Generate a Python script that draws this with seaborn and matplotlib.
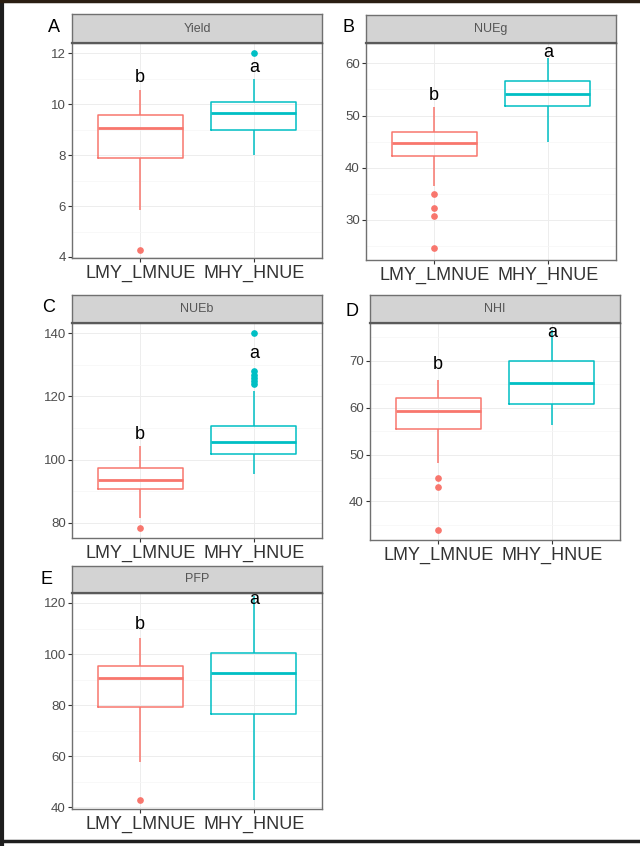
import numpy as np
import pandas as pd
import matplotlib
matplotlib.use("Agg")
import matplotlib.pyplot as plt
from matplotlib.lines import Line2D
from matplotlib.ticker import AutoMinorLocator
import seaborn as sns

# ---------------- data ----------------
groups = ["LMY_LMNUE", "MHY_HNUE"]
panel_titles = ["Yield", "NUEg", "NUEb", "NHI", "PFP"]
panel_letters = ["A", "B", "C", "D", "E"]

# five-number summaries: [lower whisker, Q1, median, Q3, upper whisker]
yield_lmy = [5.84, 7.88, 9.06, 9.57, 10.55]
yield_mhy = [8.0, 8.98, 9.65, 10.08, 11.0]
nueg_lmy = [36.4, 42.3, 44.7, 46.8, 51.7]
nueg_mhy = [45.0, 51.8, 54.1, 56.6, 61.0]
nueb_lmy = [81.5, 90.7, 93.7, 97.4, 104.2]
nueb_mhy = [95.3, 101.9, 105.5, 110.5, 121.6]
nhi_lmy = [48.2, 55.4, 59.3, 62.1, 65.8]
nhi_mhy = [56.2, 60.7, 65.2, 70.0, 76.6]
pfp_lmy = [57.8, 79.2, 90.5, 95.4, 106.3]
pfp_mhy = [42.8, 76.4, 92.5, 100.6, 122.7]

# outliers
yield_lmy_out = [4.27]
yield_mhy_out = [12.0]
nueg_lmy_out = [35.0, 32.2, 30.8, 24.6]
nueg_mhy_out = []
nueb_lmy_out = [78.4]
nueb_mhy_out = [123.8, 124.8, 125.8, 126.8, 128.0, 140.0]
nhi_lmy_out = [45.0, 43.0, 34.0]
nhi_mhy_out = []
pfp_lmy_out = [42.8]
pfp_mhy_out = []

# significance letters and their heights
sig_letters = [["b", "a"], ["b", "a"], ["b", "a"], ["b", "a"], ["b", "a"]]
letter_y = [[11.06, 11.45], [53.9, 62.0], [107.9, 133.5], [69.1, 75.9], [111.5, 121.3]]

# axis ranges and ticks
ylims = [(3.96, 12.4), (22.3, 63.9), (75.2, 143.2), (31.8, 78.0), (39.4, 123.9)]
yticks = [[4, 6, 8, 10, 12], [30, 40, 50, 60], [80, 100, 120, 140],
          [40, 50, 60, 70], [40, 60, 80, 100, 120]]

summaries = [(yield_lmy, yield_mhy), (nueg_lmy, nueg_mhy), (nueb_lmy, nueb_mhy),
             (nhi_lmy, nhi_mhy), (pfp_lmy, pfp_mhy)]
outliers = [(yield_lmy_out, yield_mhy_out), (nueg_lmy_out, nueg_mhy_out),
            (nueb_lmy_out, nueb_mhy_out), (nhi_lmy_out, nhi_mhy_out),
            (pfp_lmy_out, pfp_mhy_out)]


def sample_from_summary(s, outs):
    """Sample whose box-plot statistics equal the read summary values."""
    lo, q1, med, q3, hi = s
    lows = [o for o in outs if o < q1]
    highs = [o for o in outs if o >= q1]
    return lows + [lo] + [q1] * 20 + [med] * 21 + [q3] * 20 + [hi] + highs


# ---------------- style ----------------
sns.set_theme(style="white")
plt.rcParams["font.family"] = ["Liberation Sans", "DejaVu Sans"]
palette = ["#F8766D", "#00BFC4"]

W, H = 640, 846
fig = plt.figure(figsize=(W / 100, H / 100), dpi=100)
fig.patch.set_facecolor("white")

# panel boxes in pixels: (left, right, top, bottom, strip_top)
boxes = [(72, 322, 43, 258, 14), (366, 616, 43, 260, 15),
         (72, 322, 323, 538, 295), (370, 620, 323, 540, 295),
         (72, 322, 593, 809, 566)]
letter_pos = [(54, 27), (348, 28), (49, 307), (352, 311), (47, 579)]


def frac(l, r, t, b):
    return [l / W, 1 - b / H, (r - l) / W, (b - t) / H]


for i in range(5):
    l, r, t, b, st = boxes[i]
    ax = fig.add_axes(frac(l, r, t, b))
    rows = []
    for g, s, o in zip(groups, summaries[i], outliers[i]):
        for v in sample_from_summary(s, o):
            rows.append((g, v))
    df = pd.DataFrame(rows, columns=["group", "value"])

    sns.boxplot(data=df, x="group", y="value", hue="group", order=groups,
                hue_order=groups, palette=palette, fill=False, width=0.75,
                showcaps=False, linewidth=1.1, whis=1.5, legend=False,
                medianprops=dict(linewidth=2.0),
                flierprops=dict(marker="o", markersize=3.8),
                ax=ax)
    for ln in ax.lines:
        if ln.get_marker() not in ("None", None, "", " "):
            c = ln.get_markeredgecolor()
            ln.set_markerfacecolor(c)
            ln.set_markeredgecolor(c)
            ln.set_markersize(3.8)

    for j, g in enumerate(groups):
        ax.text(j, letter_y[i][j], sig_letters[i][j], ha="center", va="center",
                fontsize=13, color="black")

    ax.set_xlim(-0.6, 1.6)
    ax.set_ylim(*ylims[i])
    ax.set_yticks(yticks[i])
    ax.yaxis.set_minor_locator(AutoMinorLocator(2))
    ax.set_xlabel("")
    ax.set_ylabel("")
    ax.grid(True, which="major", color="#EDEDED", linewidth=0.7)
    ax.grid(True, which="minor", axis="y", color="#F6F6F6", linewidth=0.5)
    ax.set_axisbelow(True)
    ax.tick_params(axis="both", which="major", length=3, width=0.8,
                   color="#333333", left=True, bottom=True)
    ax.tick_params(axis="y", which="minor", length=0)
    ax.tick_params(axis="y", labelsize=9.5, labelcolor="#4D4D4D", pad=1.5)
    ax.tick_params(axis="x", labelsize=13, labelcolor="#333333", pad=2)
    for sp in ax.spines.values():
        sp.set_visible(True)
        sp.set_color("#707070")
        sp.set_linewidth(1.0)

    # facet strip
    sax = fig.add_axes(frac(l, r, st, t))
    sax.set_facecolor("#D3D3D3")
    sax.set_xticks([])
    sax.set_yticks([])
    for sp in sax.spines.values():
        sp.set_visible(True)
        sp.set_color("#707070")
        sp.set_linewidth(1.0)
    sax.spines["bottom"].set_linewidth(1.6)
    sax.spines["bottom"].set_color("#5A5A5A")
    sax.text(0.5, 0.5, panel_titles[i], ha="center", va="center",
             fontsize=9, color="#555555", transform=sax.transAxes)

    lx, ly = letter_pos[i]
    fig.text(lx / W, 1 - ly / H, panel_letters[i], ha="center", va="center",
             fontsize=13, color="black")

# outer frame of the picture
fig.add_artist(Line2D([2 / W, 2 / W], [0, 1], transform=fig.transFigure,
                      color="#1E1E1E", linewidth=3.0))
fig.add_artist(Line2D([0, 1], [1 - 1.5 / H, 1 - 1.5 / H], transform=fig.transFigure,
                      color="#2A1E12", linewidth=2.5))
fig.add_artist(Line2D([0, 1], [1 - 841 / H, 1 - 841 / H], transform=fig.transFigure,
                      color="#1E1E1E", linewidth=2.5))

fig.savefig("out.png", dpi=100, facecolor="white")
